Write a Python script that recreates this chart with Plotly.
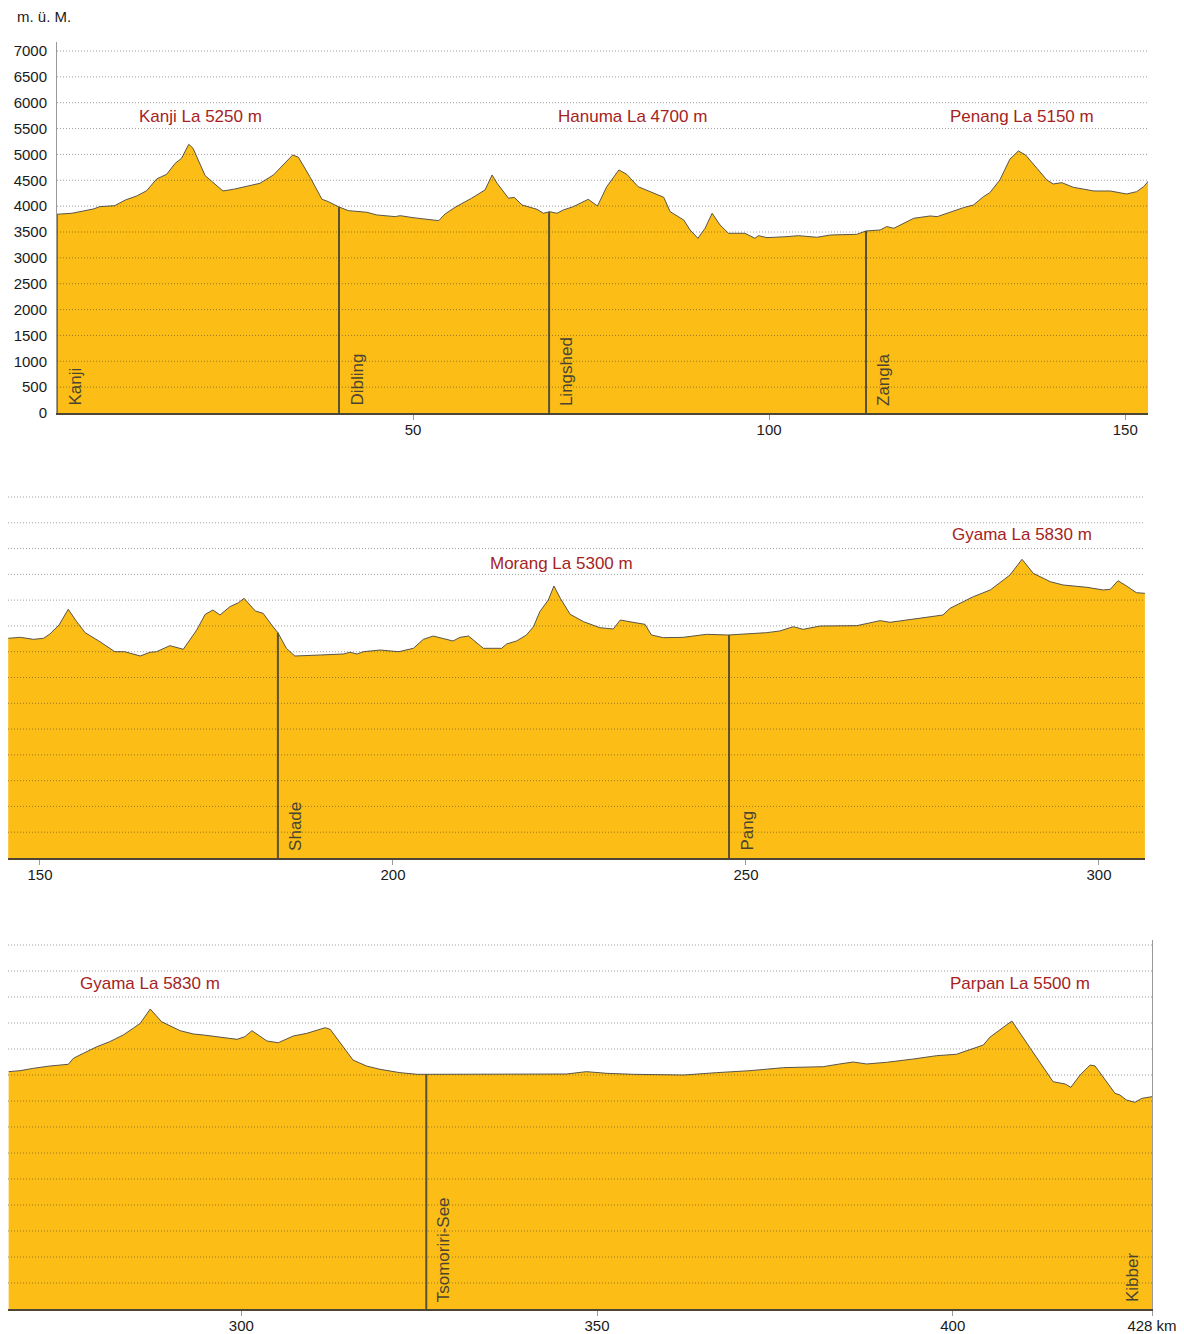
import numpy as np
import plotly.graph_objects as go

# ---------------- data ----------------
# Panel 1 elevation profile: distance (km) and altitude (m)
p1_km = [0.0, 2.1, 5.1, 6.0, 8.1, 9.6, 11.2, 12.6, 14.0, 15.4,
         16.6, 17.5, 18.5, 19.1, 20.8, 22.0, 23.3, 24.8, 26.6, 28.5,
         30.4, 31.8, 33.1, 33.9, 35.5, 37.2, 38.1, 39.5, 40.9, 43.5,
         44.9, 47.5, 48.2, 50.0, 53.6, 54.5, 55.9, 58.2, 60.1, 61.1,
         61.8, 63.4, 64.2, 65.3, 67.4, 68.3, 69.2, 70.2, 71.1, 72.5,
         73.7, 74.6, 75.9, 77.2, 78.9, 80.0, 81.6, 83.3, 85.2, 86.1,
         88.0, 88.9, 90.0, 91.0, 92.0, 93.1, 94.3, 96.6, 98.0, 98.5,
         99.7, 102.5, 104.1, 106.7, 108.6, 112.3, 113.6, 115.6, 116.5, 117.5,
         118.9, 120.3, 122.6, 123.6, 127.3, 128.7, 130.1, 131.0, 132.4, 133.8,
         135.0, 136.0, 137.6, 139.0, 139.9, 141.1, 142.7, 145.6, 147.9, 150.2,
         151.6, 152.6, 153.3]
p1_m = [3843, 3862, 3945, 3990, 4009, 4119, 4197, 4299, 4526, 4616,
        4829, 4926, 5196, 5119, 4590, 4454, 4294, 4326, 4377, 4442,
        4603, 4796, 4990, 4945, 4570, 4133, 4087, 3990, 3913, 3882,
        3830, 3797, 3816, 3777, 3719, 3849, 3978, 4152, 4313, 4603,
        4442, 4152, 4171, 4023, 3939, 3862, 3893, 3862, 3926, 3990,
        4067, 4132, 4003, 4377, 4700, 4616, 4377, 4280, 4171, 3893,
        3733, 3539, 3378, 3572, 3862, 3636, 3475, 3475, 3378, 3429,
        3391, 3410, 3429, 3398, 3442, 3455, 3520, 3539, 3604, 3572,
        3668, 3765, 3810, 3797, 3971, 4023, 4184, 4261, 4506, 4906,
        5067, 4990, 4732, 4506, 4429, 4454, 4365, 4293, 4293, 4235,
        4280, 4377, 4493]

# Panel 2 elevation profile
p2_km = [145.5, 147.2, 149.1, 150.5, 151.4, 152.7, 154.0, 155.2, 156.4, 158.5,
         160.6, 162.0, 164.2, 165.6, 166.5, 168.4, 170.3, 172.2, 173.4, 174.5,
         175.5, 176.9, 178.1, 178.9, 180.5, 181.6, 183.0, 183.7, 184.9, 186.1,
         189.7, 193.0, 193.9, 194.9, 195.8, 198.2, 200.8, 202.9, 204.3, 205.7,
         208.5, 209.5, 210.7, 212.8, 215.4, 216.1, 217.5, 218.9, 219.9, 220.8,
         222.0, 222.8, 223.7, 225.1, 227.0, 229.3, 231.2, 232.2, 234.0, 235.7,
         236.6, 238.3, 241.1, 244.4, 247.5, 252.9, 254.8, 256.7, 258.1, 260.5,
         265.7, 269.0, 270.4, 275.1, 277.9, 278.9, 282.2, 284.6, 287.4, 289.1,
         290.7, 293.1, 294.9, 298.3, 300.6, 301.6, 302.7, 303.9, 305.3, 306.5]
p2_m = [4260, 4279, 4240, 4260, 4343, 4518, 4822, 4582, 4369, 4194,
        4000, 4000, 3917, 3989, 4000, 4117, 4047, 4421, 4725, 4809,
        4712, 4873, 4950, 5036, 4790, 4745, 4485, 4369, 4066, 3917,
        3936, 3956, 3989, 3956, 4000, 4033, 4000, 4066, 4240, 4304,
        4208, 4279, 4304, 4066, 4066, 4150, 4208, 4324, 4485, 4776,
        5003, 5274, 5036, 4725, 4582, 4466, 4440, 4615, 4570, 4531,
        4324, 4272, 4279, 4337, 4324, 4369, 4402, 4485, 4434, 4498,
        4505, 4602, 4570, 4667, 4712, 4841, 5067, 5197, 5488, 5792,
        5520, 5358, 5294, 5249, 5197, 5210, 5377, 5274, 5145, 5132]

# Panel 3 elevation profile
p3_km = [267.3, 268.9, 270.8, 273.1, 275.7, 276.4, 277.8, 279.7, 281.5, 283.4,
         284.8, 285.8, 287.2, 288.8, 291.4, 293.3, 294.7, 299.4, 300.5, 301.5,
         303.6, 305.2, 307.3, 309.2, 311.8, 312.5, 315.7, 317.6, 319.5, 322.3,
         324.7, 325.8, 331.7, 338.7, 345.7, 348.5, 351.4, 355.1, 362.2, 366.8,
         371.5, 376.2, 378.5, 381.8, 384.1, 386.0, 387.9, 390.7, 394.5, 397.7,
         400.5, 402.4, 404.3, 405.2, 406.6, 408.3, 410.9, 414.1, 415.8, 416.6,
         417.9, 419.3, 420.0, 421.4, 422.8, 423.5, 424.4, 425.6, 426.6, 428.0]
p3_m = [4564, 4583, 4629, 4673, 4706, 4821, 4917, 5044, 5140, 5269,
        5398, 5494, 5769, 5525, 5352, 5288, 5269, 5186, 5237, 5352,
        5154, 5121, 5250, 5301, 5410, 5378, 4788, 4673, 4609, 4545,
        4513, 4513, 4513, 4519, 4519, 4564, 4532, 4513, 4500, 4545,
        4583, 4641, 4648, 4660, 4712, 4750, 4712, 4744, 4808, 4871,
        4898, 4981, 5077, 5225, 5365, 5538, 5013, 4371, 4327, 4263,
        4500, 4692, 4673, 4417, 4148, 4115, 4019, 3975, 4052, 4083]

# villages
village_names = ["Kanji", "Dibling", "Lingshed", "Zangla", "Shade", "Pang", "Tsomoriri-See", "Kibber"]
village_km = [0.0, 39.6, 69.1, 113.6, 183.7, 247.6, 326.0, 428.0]
village_panel = [1, 1, 1, 1, 2, 2, 3, 3]

# passes
pass_labels = ["Kanji La 5250 m", "Hanuma La 4700 m", "Penang La 5150 m", "Morang La 5300 m",
               "Gyama La 5830 m", "Gyama La 5830 m", "Parpan La 5500 m"]
pass_km = [20.1, 80.8, 135.5, 223.9, 289.1, 287.2, 409.4]
pass_panel = [1, 1, 1, 2, 2, 3, 3]

y_ticks = list(range(0, 7001, 500))
x_ticks_1 = [50, 100, 150]
x_ticks_2 = [150, 200, 250, 300]
x_ticks_3 = [300, 350, 400, 428]
x_ticktext_3 = ["300", "350", "400", "428 km"]

# ---------------- styling ----------------
W, H = 1184, 1334
FILL = "#FBBD16"
OUTLINE = "#5a5548"
VLINE = "#5a5232"
GRID = "rgba(40,40,40,0.45)"
RED = "#a5231e"
FONT = "Liberation Sans, Arial, Helvetica, sans-serif"


def px2x(p):
    return p / W


def px2y(p):
    return 1 - p / H


profiles = {1: (p1_km, p1_m), 2: (p2_km, p2_m), 3: (p3_km, p3_m)}
geo = {
    1: dict(x=[px2x(57), px2x(1148)], y=[px2y(413), px2y(42)], xr=[0, 153.2], ytop=(413 - 42) / 362 * 7000),
    2: dict(x=[px2x(8), px2x(1145)], y=[px2y(858), px2y(490)], xr=[145.47, 306.52], ytop=(858 - 490) / 361 * 7000),
    3: dict(x=[px2x(8), px2x(1152)], y=[px2y(1309), px2y(940)], xr=[267.21, 428.0], ytop=(1309 - 940) / 364 * 7000),
}


def refs(p):
    return ("x" if p == 1 else f"x{p}"), ("y" if p == 1 else f"y{p}")


fig = go.Figure()

for p in (1, 2, 3):
    km, m = profiles[p]
    xa, ya = refs(p)
    fig.add_trace(go.Scatter(x=km, y=m, mode="lines", fill="tozeroy", fillcolor=FILL,
                             line=dict(color=OUTLINE, width=1), xaxis=xa, yaxis=ya,
                             hoverinfo="skip", showlegend=False))

# village lines + labels
for name, k, p in zip(village_names, village_km, village_panel):
    km, m = profiles[p]
    top = float(np.interp(k, km, m))
    xa, ya = refs(p)
    right = name == "Kibber"
    if not right:
        fig.add_trace(go.Scatter(x=[k, k], y=[0, top], mode="lines",
                                 line=dict(color=VLINE, width=2 if name != "Kanji" else 1.5),
                                 xaxis=xa, yaxis=ya, hoverinfo="skip", showlegend=False))
    fig.add_annotation(x=k, y=0, xref=xa, yref=ya, text=name, textangle=-90, showarrow=False,
                       xanchor="right" if right else "left", yanchor="bottom",
                       xshift=-8 if right else 6, yshift=5,
                       font=dict(family=FONT, size=17, color="#4a4432"))

# pass labels
for lab, k, p in zip(pass_labels, pass_km, pass_panel):
    xa, ya = refs(p)
    if p == 1:
        yval = 5725
    elif p == 2:
        yval = 5720 if "Morang" in lab else 6282
    else:
        yval = 6269
    fig.add_annotation(x=k, y=yval, xref=xa, yref=ya, text=lab, showarrow=False,
                       xanchor="center", yanchor="middle",
                       font=dict(family=FONT, size=17, color=RED))

# grid lines drawn over the fill
shapes = []
for p in (1, 2, 3):
    xa, ya = refs(p)
    for t in y_ticks[1:]:
        shapes.append(dict(type="line", xref=f"{xa} domain", yref=ya, x0=0, x1=1, y0=t, y1=t,
                           layer="above", line=dict(color=GRID, width=1, dash="1px,2px")))
fig.update_layout(shapes=shapes)

axis_font = dict(family=FONT, size=15, color="#1a1a1a")
common_x = dict(showgrid=False, zeroline=False, showline=True, linecolor="#4d4535", linewidth=2,
                ticks="outside", ticklen=5, tickcolor="#9a9a9a", tickwidth=1, tickfont=axis_font,
                fixedrange=True, automargin=False, ticklabelstandoff=-3)
common_y = dict(showgrid=False, zeroline=False, fixedrange=True, automargin=False)

fig.update_layout(
    width=W, height=H, autosize=False, margin=dict(l=0, r=0, t=0, b=0, pad=0),
    paper_bgcolor="white", plot_bgcolor="rgba(0,0,0,0)", showlegend=False,
    font=dict(family=FONT),
    xaxis=dict(domain=geo[1]["x"], range=geo[1]["xr"], tickvals=x_ticks_1, anchor="y", **common_x),
    yaxis=dict(domain=geo[1]["y"], range=[0, geo[1]["ytop"]], anchor="x", tickvals=y_ticks,
               showline=True, linecolor="#9a9a9a", linewidth=1, ticks="", ticklabelstandoff=6,
               tickfont=dict(family=FONT, size=15, color="#1a1a1a"), **common_y),
    xaxis2=dict(domain=geo[2]["x"], range=geo[2]["xr"], tickvals=x_ticks_2, anchor="y2", **common_x),
    yaxis2=dict(domain=geo[2]["y"], range=[0, geo[2]["ytop"]], anchor="x2", showticklabels=False,
                showline=False, **common_y),
    xaxis3=dict(domain=geo[3]["x"], range=geo[3]["xr"], tickvals=x_ticks_3, ticktext=x_ticktext_3,
                anchor="y3", **common_x),
    yaxis3=dict(domain=geo[3]["y"], range=[0, geo[3]["ytop"]], anchor="x3", side="right",
                showticklabels=False, showline=True, linecolor="#9a9a9a", linewidth=1, **common_y),
)

fig.add_annotation(x=px2x(15), y=px2y(17), xref="paper", yref="paper", text="m. ü. M.",
                   showarrow=False, xanchor="left", yanchor="middle",
                   font=dict(family=FONT, size=15, color="#1a1a1a"))

post = ("document.body.style.margin='0';document.body.style.padding='0';"
        "document.body.style.overflow='hidden';document.documentElement.style.overflow='hidden';")
fig.write_html("out.html", config={"responsive": False, "displayModeBar": False}, post_script=post)
